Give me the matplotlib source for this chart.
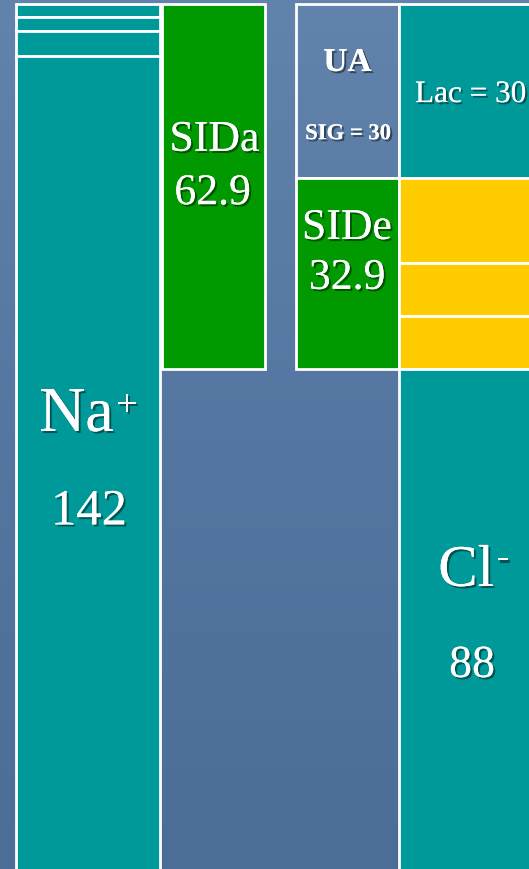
import numpy as np
import matplotlib
matplotlib.use("Agg")
import matplotlib.pyplot as plt
import matplotlib.patheffects as pe

plt.rcParams['font.family'] = ['Liberation Serif', 'DejaVu Serif']

# cations, stacked from the top: Mg, Ca, K, Na
cation_names = ['Mg', 'Ca', 'K', 'Na+']
cation_values = [2.2, 2.5, 4.2, 142]

# apparent strong ion difference
sida = 62.9

# unmeasured anions (SIG) and effective SID
sig = 30
side = 32.9

# anions, stacked from the top: lactate, three buffer ions, chloride
anion_names = ['Lac', 'HCO3', 'Alb', 'Pi', 'Cl-']
anion_values = [30, 14.6, 9.1, 9.2, 88]

teal = '#009999'
green = '#009900'
yellow = '#ffcc00'

fig = plt.figure(figsize=(5.29, 8.70), dpi=100)
ax = fig.add_axes([0, 0, 1, 1])

# bluish backdrop like the slide template
grad = np.linspace(0, 1, 256).reshape(-1, 1)
bg = matplotlib.colors.LinearSegmentedColormap.from_list('bg', ['#6283ab', '#5476a0', '#4c6d96'])
ax.imshow(grad, cmap=bg, aspect='auto', extent=[0, 529, 149.1, -0.86], zorder=0)

edge = dict(edgecolor='white', linewidth=2.0, zorder=2)

# column 1: cations
bottom = 0
for v in cation_values:
    ax.bar(88, v, width=144, bottom=bottom, color=teal, **edge)
    bottom += v

# column 2: SIDa
ax.bar(213, sida, width=103, bottom=0, color=green, **edge)

# column 3: SIG (empty box) and SIDe
ax.bar(347.5, sig, width=103, bottom=0, color='none', **edge)
ax.bar(347.5, side, width=103, bottom=sig, color=green, **edge)

# column 4: anions
anion_colors = [teal, yellow, yellow, yellow, teal]
bottom = 0
for v, c in zip(anion_values, anion_colors):
    ax.bar(471, v, width=144, bottom=bottom, color=c, **edge)
    bottom += v

ax.set_xlim(0, 529)
ax.set_ylim(149.1, -0.86)
ax.axis('off')

shadow = [pe.withSimplePatchShadow(offset=(1.5, -1.5), shadow_rgbFace='black', alpha=0.45), pe.Normal()]
txt = dict(color='white', ha='center', va='baseline', path_effects=shadow, zorder=5)

ax.text(76.5, 73.6, 'Na', fontsize=46, **txt)
ax.text(127, 70.9, '+', fontsize=27, **txt)
ax.text(89, 89.7, '142', fontsize=36.5, **txt)
ax.text(466, 100.3, 'Cl', fontsize=42.5, **txt)
ax.text(503, 97.2, '-', fontsize=27, **txt)
ax.text(472, 116.0, '88', fontsize=33, **txt)
ax.text(214.5, 25.3, 'SIDa', fontsize=31.5, **txt)
ax.text(212.5, 34.5, '%.1f' % sida, fontsize=31.5, **txt)
ax.text(347, 40.5, 'SIDe', fontsize=31.5, **txt)
ax.text(347, 49.1, '%.1f' % side, fontsize=31.5, **txt)
ax.text(347.5, 11.55, 'UA', fontsize=24, fontweight='bold', **txt)
ax.text(348, 23.3, 'SIG = %d' % sig, fontsize=16.3, fontweight='bold', **txt)
txt['ha'] = 'left'
ax.text(415, 16.9, 'Lac = %d' % anion_values[0], fontsize=22.5, **txt)

fig.savefig('out.png', dpi=100)
